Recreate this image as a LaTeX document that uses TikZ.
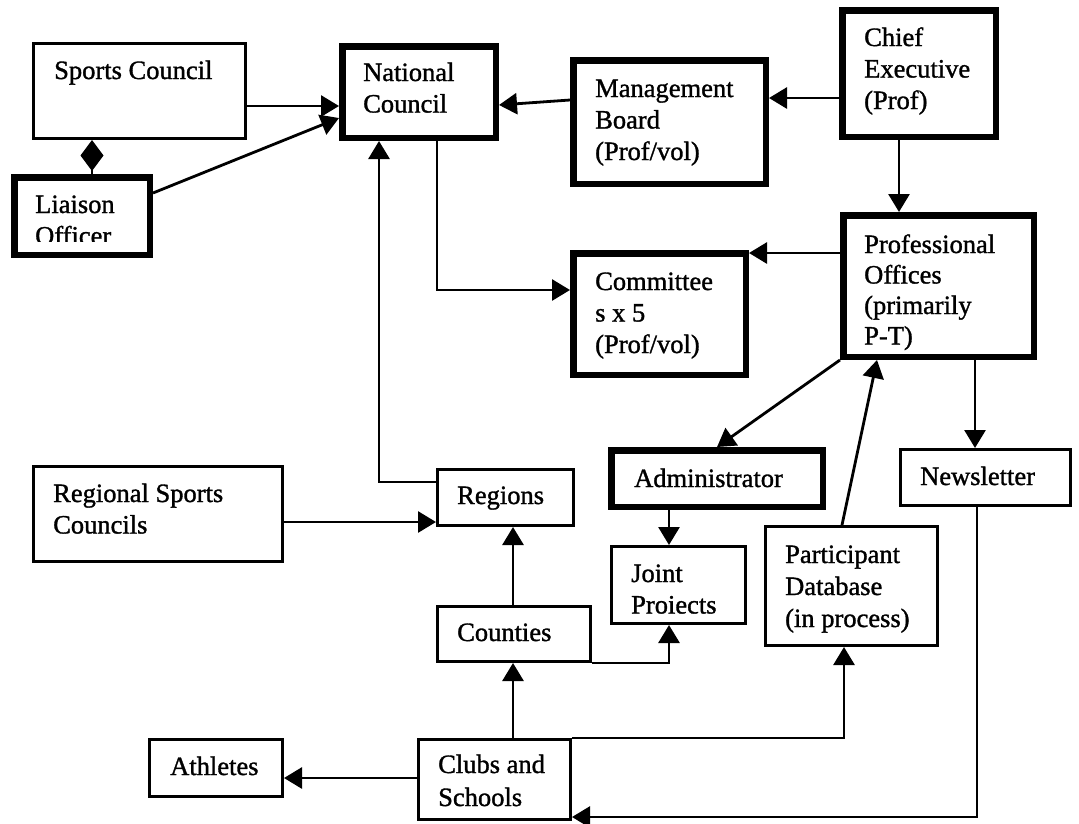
\documentclass[tikz,border=0pt]{standalone}
\usepackage{fontspec}
\setmainfont{Liberation Serif}
\newfontfamily\boxfont{Liberation Serif}[FakeBold=1.2]
\usetikzlibrary{arrows.meta}
\begin{document}
\begin{tikzpicture}[x=1pt,y=-1pt,
  thinbox/.style={draw, line width=3pt, inner sep=0pt, anchor=north west},
  thickbox/.style={draw, line width=6.5pt, inner sep=0pt, anchor=north west},
  lbl/.style={anchor=base west, inner sep=0pt, align=left,
              font=\boxfont\fontsize{26.5}{31.5}\selectfont},
  arr/.style={line width=2.8pt, -{Triangle[length=18pt,width=21pt]}},
  link/.style={line width=2.8pt, -{Diamond[length=31pt,width=23pt]}},
]
\fill[white] (0,0) rectangle (1079,823);
\useasboundingbox (0,0) rectangle (1079,823);

% boxes (outer top-left corner, size of the border centre line)
\node[thinbox,  minimum width=212pt,   minimum height=95pt]    (sc) at (32,42)   {};
\node[thickbox, minimum width=135.5pt, minimum height=77.5pt]  (lo) at (11,174)  {};
\node[thickbox, minimum width=153.5pt, minimum height=91.5pt]  (nc) at (339,43)  {};
\node[thickbox, minimum width=192.5pt, minimum height=123.5pt] (mb) at (570,57)  {};
\node[thickbox, minimum width=153.5pt, minimum height=126.5pt] (ce) at (839,7)   {};
\node[thickbox, minimum width=190.5pt, minimum height=141.5pt] (po) at (840,212) {};
\node[thickbox, minimum width=172.5pt, minimum height=121.5pt] (cm) at (570,250) {};
\node[thickbox, minimum width=211.5pt, minimum height=56.5pt]  (ad) at (608,447) {};
\node[thinbox,  minimum width=249pt,   minimum height=95pt]    (rsc) at (32,465) {};
\node[thinbox,  minimum width=136pt,   minimum height=56pt]    (rg) at (436,468) {};
\node[thinbox,  minimum width=153pt,   minimum height=55pt]    (ct) at (436,605) {};
\node[thinbox,  minimum width=152pt,   minimum height=80pt]    (cs) at (417,738) {};
\node[thinbox,  minimum width=133pt,   minimum height=57pt]    (at) at (148,738) {};
\node[thinbox,  minimum width=134pt,   minimum height=77pt]    (jp) at (610,545) {};
\node[thinbox,  minimum width=172pt,   minimum height=119pt]   (pd) at (764,525) {};
\node[thinbox,  minimum width=170pt,   minimum height=56pt]    (nl) at (899,448) {};

% labels (placed by the baseline of their last line)
\node[lbl] (sc-t)  at (54,79)    {Sports Council};
\begin{scope}
  % the second line runs past the bottom of its box and is cut there
  \clip (14,177) rectangle (150,241);
  \node[lbl] (lo-t) at (35,244.5) {Liaison\\Officer};
\end{scope}
\node[lbl] (nc-t)  at (363,112.5) {National\\Council};
\node[lbl] (mb-t)  at (595,160)   {Management\\Board\\(Prof/vol)};
\node[lbl] (ce-t)  at (864,109)   {Chief\\Executive\\(Prof)};
\node[lbl, font=\boxfont\fontsize{26.5}{30.5}\selectfont]
           (po-t)  at (864,344.5) {Professional\\Offices\\(primarily\\P-T)};
\node[lbl] (cm-t)  at (595,353)   {Committee\\s x 5\\(Prof/vol)};
\node[lbl] (ad-t)  at (634,487)   {Administrator};
\node[lbl] (nl-t)  at (920,485)   {Newsletter};
\node[lbl] (rsc-t) at (53,533.5)  {Regional Sports\\Councils};
\node[lbl] (rg-t)  at (457,504)   {Regions};
\node[lbl] (ct-t)  at (457,641)   {Counties};
\node[lbl, font=\boxfont\fontsize{26.5}{33}\selectfont]
           (cs-t)  at (438,806)   {Clubs and\\Schools};
\node[lbl] (at-t)  at (170,775)   {Athletes};
\node[lbl] (jp-t)  at (631,613.5) {Joint\\Proiects};
\node[lbl, font=\boxfont\fontsize{26.5}{32}\selectfont]
           (pd-t)  at (785,627)   {Participant\\Database\\(in process)};

% connectors
\draw[link] (lo.north -| 92,0) -- (sc.south -| 92,0);
\draw[arr] (sc.east |- 0,106) -- (nc.west |- 0,106);
\draw[arr] (lo.east |- 0,193) -- (nc.west |- 0,118);
\draw[arr] (mb.west |- 0,100) -- (nc.east |- 0,105);
\draw[arr] (ce.west |- 0,98) -- (mb.east |- 0,98);
\draw[arr] (ce.south -| 899,0) -- (po.north -| 899,0);
\draw[arr] (po.west |- 0,253) -- (cm.east |- 0,253);
\draw[arr] (nc.south -| 437,0) |- (cm.west |- 0,290);
\draw[arr] (rg.west |- 0,482) -| (nc.south -| 379,0);
\draw[arr] (rsc.east |- 0,522) -- (rg.west |- 0,522);
\draw[arr] (ct.north -| 513,0) -- (rg.south -| 513,0);
\draw[arr] (cs.north -| 513,0) -- (ct.south -| 513,0);
\draw[arr] (ct.south east) -| (jp.south -| 669,0);
\draw[arr] (cs.north east) -| (pd.south -| 844,0);
\draw[arr] (cs.west |- 0,778) -- (at.east |- 0,778);
\draw[arr] (ad.south -| 669,0) -- (jp.north -| 669,0);
\draw[arr] (po.south west) -- (ad.north -| 717,0);
\draw[arr] (pd.north -| 842,0) -- (po.south -| 877,0);
\draw[arr] (po.south -| 975,0) -- (nl.north -| 975,0);
\draw[arr] (nl.south -| 977,0) |- (cs.east |- 0,817);
\end{tikzpicture}
\end{document}
